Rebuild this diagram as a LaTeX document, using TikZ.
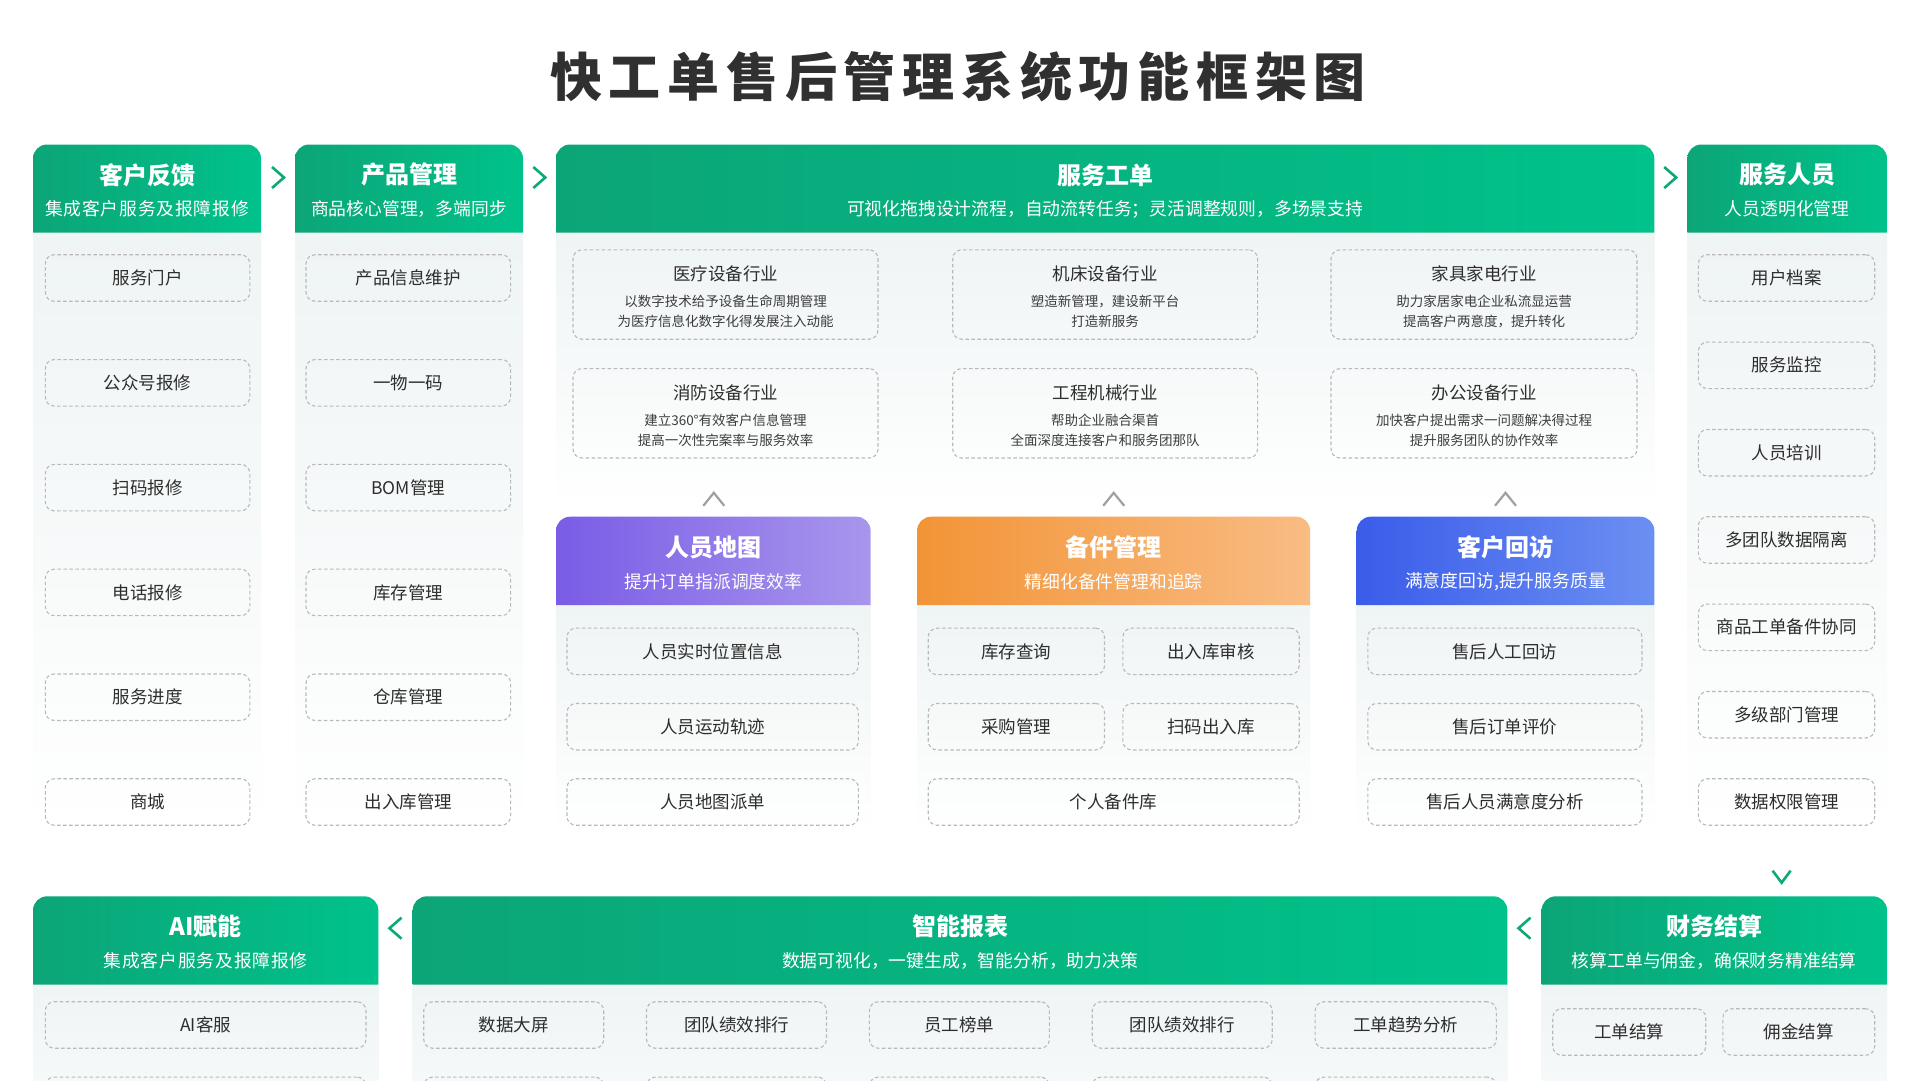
\documentclass[tikz,border=0pt]{standalone}
\usepackage{fontspec}
\setmainfont{Noto Sans CJK SC}
\newfontfamily\titlefont{Noto Sans CJK SC}[LetterSpace=13]
\newfontfamily\widesub{Noto Sans CJK SC}[LetterSpace=4.5]
\usetikzlibrary{calc}
\definecolor{grL}{RGB}{12,165,120}
\definecolor{grR}{RGB}{0,194,138}
\definecolor{puL}{RGB}{122,92,230}
\definecolor{puR}{RGB}{168,150,236}
\definecolor{orL}{RGB}{242,148,54}
\definecolor{orR}{RGB}{249,188,132}
\definecolor{blL}{RGB}{58,92,234}
\definecolor{blR}{RGB}{108,143,242}
\definecolor{bodyg}{RGB}{239,244,244}
\definecolor{dashc}{RGB}{185,185,185}
\definecolor{txt}{RGB}{45,45,45}
\definecolor{txt2}{RGB}{60,60,60}
\definecolor{ttl}{RGB}{48,48,48}
\definecolor{chevg}{RGB}{160,160,160}
\definecolor{chevgreen}{RGB}{10,170,120}

\newcommand\hdr[8]{%
  \shade[#6] (#2,#5) [rounded corners=14pt] -- (#2,#4) -- (#3,#4) [sharp corners] -- (#3,#5) -- cycle;
  \node[hdtitle] (#1t) at ({(#2+#3)/2},{#4+30.4}) {#7};
  \node[hdsub] (#1s) at ({(#2+#3)/2},{#4+64.7}) {#8};}
\newcommand\bodyp[4]{\shade[top color=bodyg, bottom color=white] (#1,#3) rectangle (#2,#4);}
\newcommand\itm[5]{\node[item, minimum width={(#3-#2)*1pt}] (#1) at ({(#2+#3)/2},#4) {#5};}
\newcommand\ind[7]{%
  \node[item, minimum width={(#3-#2)*1pt}, minimum height=89.4pt] (#1) at ({(#2+#3)/2},#4) {};
  \node[indtitle] (#1t) at ({(#2+#3)/2},{#4-20.8}) {#5};
  \node[inddesc] (#1d) at ({(#2+#3)/2},{#4+16.8}) {#6\\#7};}
\newcommand\chR[1]{\draw[chev] ($(#1)+(-6,-10.5)$) -- ($(#1)+(6,0)$) -- ($(#1)+(-6,10.5)$);}
\newcommand\chL[1]{\draw[chev] ($(#1)+(6,-10.5)$) -- ($(#1)+(-6,0)$) -- ($(#1)+(6,10.5)$);}
\newcommand\chD[1]{\draw[chev] ($(#1)+(-9,-6)$) -- ($(#1)+(0,6)$) -- ($(#1)+(9,-6)$);}
\newcommand\chU[1]{\draw[upchev] ($(#1)+(-10.5,6.5)$) -- ($(#1)+(0,-6.5)$) -- ($(#1)+(10.5,6.5)$);}

\begin{document}
\begin{tikzpicture}[x=1pt,y=-1pt,
  hdtitle/.style={text=white, font=\fontsize{24}{28}\selectfont\bfseries, inner sep=0},
  hdsub/.style={text=white, font=\fontsize{17.8}{21}\selectfont, inner sep=0},
  item/.style={draw=dashc, line width=1.1pt, dash pattern=on 3.5pt off 2.5pt, rounded corners=9pt, text=txt, font=\fontsize{17.5}{21}\selectfont, inner sep=0, minimum height=46.5pt},
  indtitle/.style={text=txt, font=\fontsize{17.5}{21}\selectfont, inner sep=0},
  inddesc/.style={text=txt2, font=\fontsize{13.5}{19.8}\selectfont, align=center, inner sep=0},
  chev/.style={draw=chevgreen, line width=2.6pt},
  upchev/.style={draw=chevg, line width=2.2pt},
  grn/.style={left color=grL, right color=grR},
  pur/.style={left color=puL, right color=puR},
  org/.style={left color=orL, right color=orR},
  blu/.style={left color=blL, right color=blR}]
\useasboundingbox (0,0) rectangle (1920,1080);
\clip (0,0) rectangle (1920,1080);
\fill[white] (0,0) rectangle (1920,1080);

% title
\node[font=\titlefont\bfseries\fontsize{52}{60}\selectfont, text=ttl, inner sep=0] (title) at (958,77) {快工单售后管理系统功能框架图};

% bodies
\bodyp{33}{261}{232.7}{835}
\bodyp{295}{523}{232.7}{835}
\bodyp{556}{1654.3}{232.7}{510}
\bodyp{1687.3}{1887}{232.7}{835}
\bodyp{556}{870.6}{605}{835}
\bodyp{917.1}{1310.2}{605}{835}
\bodyp{1356.7}{1654.3}{605}{835}
\bodyp{33}{378.4}{984.5}{1200}
\bodyp{412.7}{1507.4}{984.5}{1200}
\bodyp{1541.6}{1887}{984.5}{1200}

% headers
\hdr{kf}{33}{261}{144.5}{232.7}{grn}{客户反馈}{\widesub 集成客户服务及报障报修}
\hdr{cp}{295}{523}{144.5}{232.7}{grn}{产品管理}{商品核心管理，多端同步}
\hdr{gd}{556}{1654.3}{144.5}{232.7}{grn}{服务工单}{可视化拖拽设计流程，自动流转任务；灵活调整规则，多场景支持}
\hdr{ry}{1687.3}{1887}{144.5}{232.7}{grn}{服务人员}{人员透明化管理}
\hdr{dt}{556}{870.6}{516.7}{605}{pur}{人员地图}{提升订单指派调度效率}
\hdr{bj}{917.1}{1310.2}{516.7}{605}{org}{备件管理}{精细化备件管理和追踪}
\hdr{hf}{1356.7}{1654.3}{516.7}{605}{blu}{客户回访}{满意度回访,提升服务质量}
\hdr{ai}{33}{378.4}{896.3}{984.5}{grn}{AI赋能}{\widesub 集成客户服务及报障报修}
\hdr{bb}{412.7}{1507.4}{896.3}{984.5}{grn}{智能报表}{数据可视化，一键生成，智能分析，助力决策}
\hdr{cw}{1541.6}{1887}{896.3}{984.5}{grn}{财务结算}{核算工单与佣金，确保财务精准结算}

% column 1
\itm{a1}{45.3}{249.8}{278}{服务门户}
\itm{a2}{45.3}{249.8}{382.8}{公众号报修}
\itm{a3}{45.3}{249.8}{487.6}{扫码报修}
\itm{a4}{45.3}{249.8}{592.4}{电话报修}
\itm{a5}{45.3}{249.8}{697.2}{服务进度}
\itm{a6}{45.3}{249.8}{802}{商城}
% column 2
\itm{b1}{306}{510.6}{278}{产品信息维护}
\itm{b2}{306}{510.6}{382.8}{一物一码}
\itm{b3}{306}{510.6}{487.6}{BOM管理}
\itm{b4}{306}{510.6}{592.4}{库存管理}
\itm{b5}{306}{510.6}{697.2}{仓库管理}
\itm{b6}{306}{510.6}{802}{出入库管理}
% column 4
\itm{d1}{1698.4}{1874.7}{278}{用户档案}
\itm{d2}{1698.4}{1874.7}{365.3}{服务监控}
\itm{d3}{1698.4}{1874.7}{452.7}{人员培训}
\itm{d4}{1698.4}{1874.7}{540}{多团队数据隔离}
\itm{d5}{1698.4}{1874.7}{627.3}{商品工单备件协同}
\itm{d6}{1698.4}{1874.7}{714.7}{多级部门管理}
\itm{d7}{1698.4}{1874.7}{802}{数据权限管理}

% industries
\ind{i1}{573}{878}{294.5}{医疗设备行业}{以数字技术给予设备生命周期管理}{为医疗信息化数字化得发展注入动能}
\ind{i2}{952.7}{1257.6}{294.5}{机床设备行业}{塑造新管理，建设新平台}{打造新服务}
\ind{i3}{1331}{1637}{294.5}{家具家电行业}{助力家居家电企业私流显运营}{提高客户两意度，提升转化}
\ind{i4}{573}{878}{413.3}{消防设备行业}{建立360°有效客户信息管理}{提高一次性完案率与服务效率}
\ind{i5}{952.7}{1257.6}{413.3}{工程机械行业}{帮助企业融合渠首}{全面深度连接客户和服务团那队}
\ind{i6}{1331}{1637}{413.3}{办公设备行业}{加快客户提出需求一问题解决得过程}{提升服务团队的协作效率}

% sub panels items
\itm{m1}{567}{858.4}{651.4}{人员实时位置信息}
\itm{m2}{567}{858.4}{726.7}{人员运动轨迹}
\itm{m3}{567}{858.4}{802}{人员地图派单}
\itm{p1}{928.2}{1104.5}{651.4}{库存查询}
\itm{p2}{1122.9}{1299.2}{651.4}{出入库审核}
\itm{p3}{928.2}{1104.5}{726.7}{采购管理}
\itm{p4}{1122.9}{1299.2}{726.7}{扫码出入库}
\itm{p5}{928.2}{1299.2}{802}{个人备件库}
\itm{h1}{1367.8}{1642}{651.4}{售后人工回访}
\itm{h2}{1367.8}{1642}{726.7}{售后订单评价}
\itm{h3}{1367.8}{1642}{802}{售后人员满意度分析}

% bottom row
\itm{e1}{45.3}{366}{1025}{AI客服}
\itm{e2}{45.3}{366}{1100.3}{}
\itm{f1}{423.7}{603.7}{1025}{数据大屏}
\itm{f2}{646.5}{826.5}{1025}{团队绩效排行}
\itm{f3}{869.4}{1049.4}{1025}{员工榜单}
\itm{f4}{1092.2}{1272.2}{1025}{团队绩效排行}
\itm{f5}{1315.1}{1496.3}{1025}{工单趋势分析}
\itm{g1}{423.7}{603.7}{1100.3}{}
\itm{g2}{646.5}{826.5}{1100.3}{}
\itm{g3}{869.4}{1049.4}{1100.3}{}
\itm{g4}{1092.2}{1272.2}{1100.3}{}
\itm{g5}{1315.1}{1496.3}{1100.3}{}
\itm{c1}{1552.7}{1705.7}{1032}{工单结算}
\itm{c2}{1722.9}{1874.7}{1032}{佣金结算}

% chevrons
\coordinate (r1) at (278,177.5);
\coordinate (r2) at (539.3,177.5);
\coordinate (r3) at (1670.2,177.5);
\coordinate (l1) at (395.5,928.2);
\coordinate (l2) at (1524.5,928.2);
\coordinate (dn) at (1781.6,876.7);
\coordinate (u1) at (713.8,499.3);
\coordinate (u2) at (1113.7,499.3);
\coordinate (u3) at (1505.5,499.3);
\chR{r1}\chR{r2}\chR{r3}
\chL{l1}\chL{l2}
\chD{dn}
\chU{u1}\chU{u2}\chU{u3}
\end{tikzpicture}
\end{document}
